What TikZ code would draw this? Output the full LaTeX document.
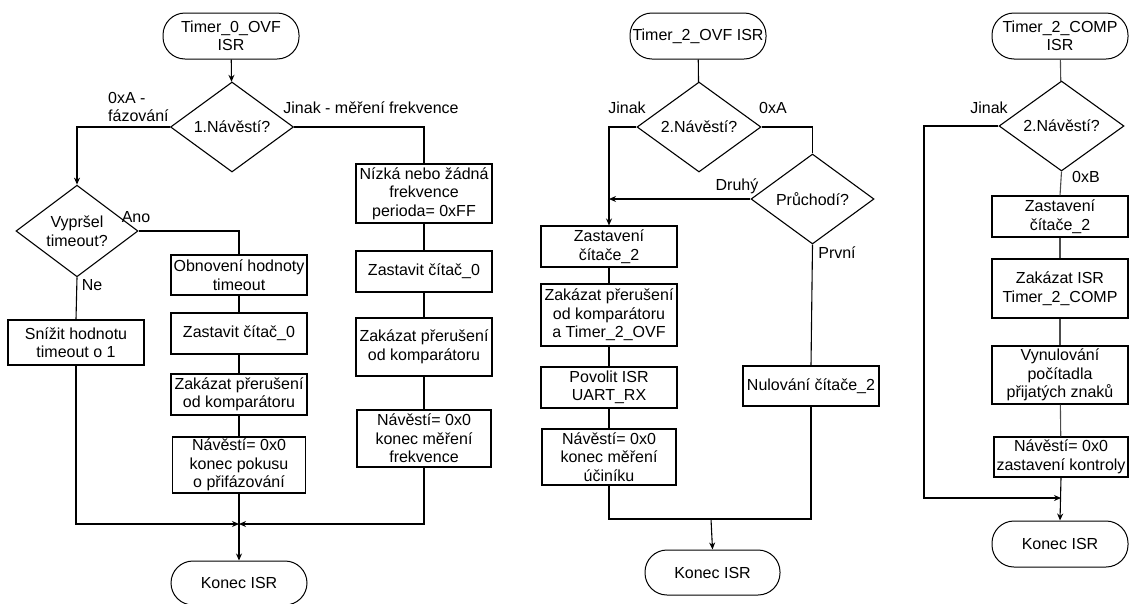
\documentclass[tikz,border=0pt]{standalone}
\usepackage{fontspec}
\setmainfont{Liberation Sans}
\usetikzlibrary{shapes.geometric,arrows.meta}
\begin{document}
\begin{tikzpicture}[x=1pt,y=-1pt,
  every node/.style={font=\fontsize{16}{18.5}\selectfont},
  proc/.style={draw, rectangle, align=center, inner sep=1pt, line width=1.1pt},
  term/.style={draw, rectangle, rounded corners=22pt, align=center, minimum width=136pt,
               minimum height=46pt, inner sep=1pt, line width=1pt},
  dec/.style={draw, diamond, align=center, inner sep=0pt, minimum width=123pt,
              minimum height=90pt, line width=1.1pt},
  lbl/.style={inner sep=0pt},
  flow/.style={line width=1.1pt},
  soft/.style={flow, draw=black!70},
  arr/.style={flow, -{Stealth[length=7pt,width=6pt]}}
]
\useasboundingbox (0,0) rectangle (1129,603);

% ---------- Timer_0_OVF ISR ----------
\node[term] (s0) at (231,36) {Timer\_0\_OVF\\ISR};
\node[dec] (d1) at (232,127) {1.Návěstí?};
\node[dec, minimum width=122pt] (d2) at (77,231) {Vypršel\\timeout?};
\node[proc, minimum width=136pt, minimum height=45pt] (sn) at (76,342.5) {Snížit hodnotu\\timeout o 1};
\node[proc, minimum width=136pt, minimum height=40pt] (ob) at (239,275) {Obnovení hodnoty\\timeout};
\node[proc, minimum width=136pt, minimum height=41pt] (zc) at (239,333.5) {Zastavit čítač\_0};
\node[proc, minimum width=136pt, minimum height=41pt] (zp) at (239,394.5) {Zakázat přerušení\\od komparátoru};
\node[proc, minimum width=133pt, minimum height=56pt] (np) at (239,465) {Návěstí= 0x0\\konec pokusu\\o přifázování};
\node[proc, minimum width=136pt, minimum height=59pt] (nz) at (424,193.5) {Nízká nebo žádná\\frekvence\\perioda= 0xFF};
\node[proc, minimum width=136pt, minimum height=41pt] (zc2) at (424,271.5) {Zastavit čítač\_0};
\node[proc, minimum width=136pt, minimum height=58pt] (zp2) at (424,347) {Zakázat přerušení\\od komparátoru};
\node[proc, minimum width=134pt, minimum height=57pt] (nf) at (424,438.5) {Návěstí= 0x0\\konec měření\\frekvence};
\node[term, minimum height=44pt] (k0) at (239,583) {Konec ISR};
\coordinate (j1) at (239,524);

\node[lbl, align=left, anchor=west] (l0a) at (108,107) {0xA -\\fázování};
\node[lbl] (l0b) at (371,108) {Jinak - měření frekvence};
\node[lbl] (l0c) at (136,217) {Ano};
\node[lbl] (l0d) at (92,285) {Ne};

\draw[arr] (s0) -- (d1);
\draw[arr] (d1.west) -| (d2.north);
\draw[flow] (d1.east) -| (nz.north);
\draw[flow] (d2.east) -| (ob.north);
\draw[flow] (d2.south) -- (sn.north);
\draw[flow] (ob) -- (zc);
\draw[flow] (zc) -- (zp);
\draw[flow] (zp) -- (np);
\draw[flow] (nz) -- (zc2);
\draw[flow] (zc2) -- (zp2);
\draw[flow] (zp2) -- (nf);
\draw[arr] (sn.south) |- (j1);
\draw[arr] (nf.south) |- (j1);
\draw[arr] (np.south) -- (k0.north);

% ---------- Timer_2_OVF ISR ----------
\node[term] (s1) at (698,36) {Timer\_2\_OVF ISR};
\node[dec, minimum width=124pt] (d3) at (699,127) {2.Návěstí?};
\node[dec] (d4) at (812.5,199) {Průchodí?};
\node[proc, minimum width=136pt, minimum height=41pt] (zs) at (609,246.5) {Zastavení\\čítače\_2};
\node[proc, minimum width=136pt, minimum height=62pt] (zk) at (609,315) {Zakázat přerušení\\od komparátoru\\a Timer\_2\_OVF};
\node[proc, minimum width=136pt, minimum height=41pt] (pu) at (609,387.5) {Povolit ISR\\UART\_RX};
\node[proc, minimum width=134pt, minimum height=56pt] (nu) at (609,457) {Návěstí= 0x0\\konec měření\\účiníku};
\node[proc, minimum width=136pt, minimum height=40pt] (nl) at (811,386) {Nulování čítače\_2};
\node[term, minimum width=135pt, minimum height=45pt] (k1) at (712.5,572.5) {Konec ISR};
\coordinate (k2) at (609,199);
\coordinate (j2) at (711,519);

\node[lbl] (l1a) at (627,108) {Jinak};
\node[lbl] (l1b) at (773,108) {0xA};
\node[lbl] (l1c) at (737,186) {Druhý};
\node[lbl] (l1d) at (837,253) {První};

\draw[flow] (s1) -- (d3);
\draw[arr] (d3.west) -| (zs.north);
\draw[flow] (d3.east) -| (d4.north);
\draw[arr] (d4.west) -- (k2);
\draw[flow] (d4.south) -- (nl.north);
\draw[flow] (zs) -- (zk);
\draw[flow] (zk) -- (pu);
\draw[flow] (pu) -- (nu);
\draw[flow] (nu.south) |- (j2) -| (nl.south);
\draw[arr] (j2) -- (k1.north);

% ---------- Timer_2_COMP ISR ----------
\node[term] (s2) at (1060,36) {Timer\_2\_COMP\\ISR};
\node[dec, minimum width=125pt] (d5) at (1061.5,126) {2.Návěstí?};
\node[proc, minimum width=136pt, minimum height=41pt] (zs3) at (1060,216.5) {Zastavení\\čítače\_2};
\node[proc, minimum width=136pt, minimum height=59pt] (zi) at (1060,288.5) {Zakázat ISR\\Timer\_2\_COMP};
\node[proc, minimum width=136pt, minimum height=58pt] (vy) at (1060,375) {Vynulování\\počítadla\\přijatých znaků};
\node[proc, minimum width=134pt, minimum height=40pt] (nk) at (1061,457) {Návěstí= 0x0\\zastavení kontroly};
\node[term] (k3) at (1060,544) {Konec ISR};
\coordinate (c3) at (924,498);
\coordinate (j3) at (1061,498);

\node[lbl] (l2a) at (989,108) {Jinak};
\node[lbl] (l2b) at (1086,177) {0xB};

\draw[soft] (s2) -- (d5);
\draw[arr] (d5.west) -| (c3) -- (j3);
\draw[soft] (d5.south) -- (zs3.north);
\draw[soft] (zs3) -- (zi);
\draw[soft] (zi) -- (vy);
\draw[soft] (vy) -- (nk);
\draw[arr] (nk.south) -- (k3.north);
\end{tikzpicture}
\end{document}
